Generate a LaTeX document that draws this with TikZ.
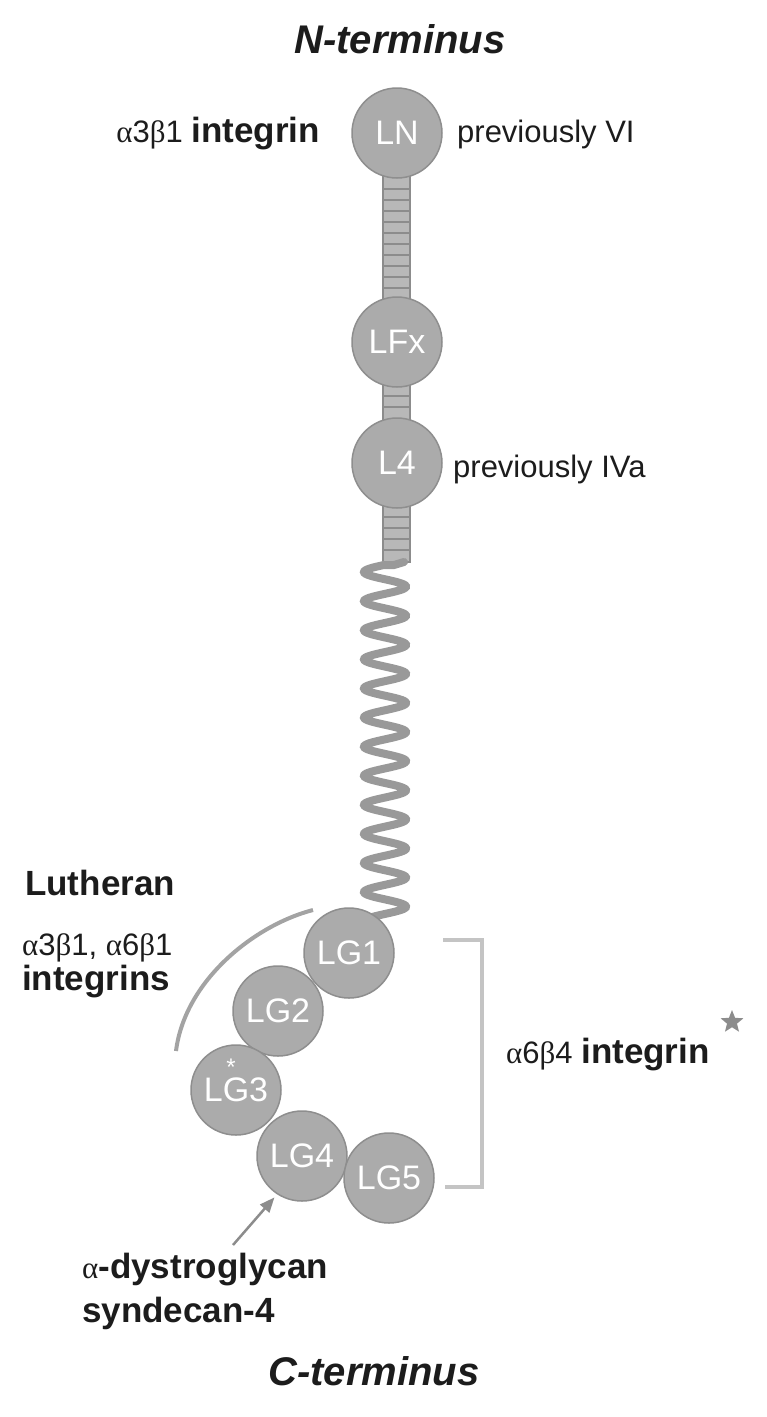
\documentclass[tikz,border=0pt]{standalone}
\usepackage{fontspec}
\setmainfont{Liberation Sans}
\newfontfamily\grkfont{Liberation Serif}
\usetikzlibrary{arrows.meta,shapes.geometric}
\newcommand\myal{{\grkfont α}}
\newcommand\mybe{{\grkfont β}}
\definecolor{domfill}{HTML}{ABABAB}
\definecolor{domline}{HTML}{8E8E8E}
\definecolor{ladfill}{HTML}{B8B8B8}
\definecolor{ladline}{HTML}{8C8C8C}
\definecolor{springc}{HTML}{999999}
\definecolor{arcc}{HTML}{A3A3A3}
\definecolor{brackc}{HTML}{C4C4C4}
\definecolor{txt}{HTML}{1C1C1C}
\begin{document}
\begin{tikzpicture}[x=1pt,y=-1pt,
  dombox/.style={circle, minimum size=90pt, inner sep=0pt, fill=domfill, draw=domline, line width=1.5pt, text=white, font=\fontsize{34}{34}\selectfont},
  lab/.style={font=\fontsize{31}{34}\selectfont, text=txt, inner sep=0pt},
  blab/.style={font=\fontsize{35}{38}\selectfont\bfseries, text=txt, inner sep=0pt},
  term/.style={font=\fontsize{40}{40}\selectfont\bfseries\itshape, text=txt, inner sep=0pt},
  ladderbox/.style={fill=ladfill, draw=ladline, line width=1.5pt},
  rung/.style={draw=ladline, line width=1.5pt},
  springline/.style={draw=springc, line width=8pt, line cap=round},
  lutharc/.style={draw=arcc, line width=4pt},
  bracketline/.style={draw=brackc, line width=4pt},
  pointer/.style={draw=ladline, line width=2.5pt, -{Triangle[length=15pt,width=12pt]}}]
\useasboundingbox (0,0) rectangle (767,1417);
% ladders
\draw[ladderbox] (383,176) rectangle (410,300);
\foreach \yy in {189,200,...,290} \draw[rung] (383,\yy) -- (410,\yy);
\draw[ladderbox] (383,385) rectangle (410,420);
\foreach \yy in {396,407} \draw[rung] (383,\yy) -- (410,\yy);
\draw[ladderbox] (383,506) rectangle (410,562);
\foreach \yy in {517,528,539,550} \draw[rung] (383,\yy) -- (410,\yy);
% spring
\coordinate (springtop) at (404,562);
\draw[springline] (springtop) -- (394,565) -- plot[domain=-7:345, samples=400] ({385-21*cos(12.371*\x)}, {572+\x});
% domains
\node[dombox] (LN) at (397,133) {LN};
\node[dombox] (LFx) at (397,342) {LFx};
\node[dombox] (L4) at (397,463) {L4};
\node[dombox] (LG1) at (349,953) {LG1};
\node[dombox] (LG2) at (278,1011) {LG2};
\node[dombox] (LG3) at (236,1090) {\raisebox{-7pt}{\rlap{\hspace{22.5pt}\smash{\raisebox{26pt}{\fontsize{24}{24}\selectfont *}}}LG3}};
\node[dombox] (LG4) at (302,1156) {LG4};
\node[dombox] (LG5) at (389,1178) {LG5};
% texts
\node[term, anchor=base] (nterm) at (400,53) {N-terminus};
\node[term, anchor=base] (cterm) at (374,1385) {C-terminus};
\node[lab, anchor=base east] (a3b1) at (320,142) {\myal3\mybe1\ {\fontsize{35}{38}\selectfont\bfseries integrin}};
\node[lab, anchor=base west] (prevVI) at (457,142) {previously VI};
\node[lab, anchor=base west] (prevIVa) at (453,477) {previously IVa};
\node[blab, anchor=base west] (luth) at (25,895) {Lutheran};
\node[lab, anchor=base west] (a3a6) at (22,955) {\myal3\mybe1, \myal6\mybe1};
\node[blab, anchor=base west] (integrins) at (22,990) {integrins};
\node[lab, anchor=base west] (a6b4) at (506,1063) {\myal6\mybe4\ {\fontsize{35}{38}\selectfont\bfseries integrin}};
\node[star, star points=5, star point ratio=2.3, minimum size=24pt, inner sep=0pt, fill=ladline] (starm) at (732,1022) {};
\node[blab, anchor=base west] (dg) at (82,1278) {{\fontsize{31}{34}\selectfont\mdseries\myal}-dystroglycan};
\node[blab, anchor=base west] (sd) at (82,1322) {syndecan-4};
% Lutheran arc
\coordinate (arcA) at (313,910);
\coordinate (arcB) at (176,1051);
\draw[lutharc] (arcA) .. controls (255,925) and (185,980) .. (arcB);
% bracket
\coordinate (brA) at (443,940);
\coordinate (brB) at (482,940);
\coordinate (brC) at (482,1187);
\coordinate (brD) at (445,1187);
\draw[bracketline] (brA) -- (brB) -- (brC) -- (brD);
% arrow
\coordinate (arrstart) at (233,1245);
\draw[pointer, shorten >=4pt] (arrstart) -- (LG4.237);
\end{tikzpicture}
\end{document}
